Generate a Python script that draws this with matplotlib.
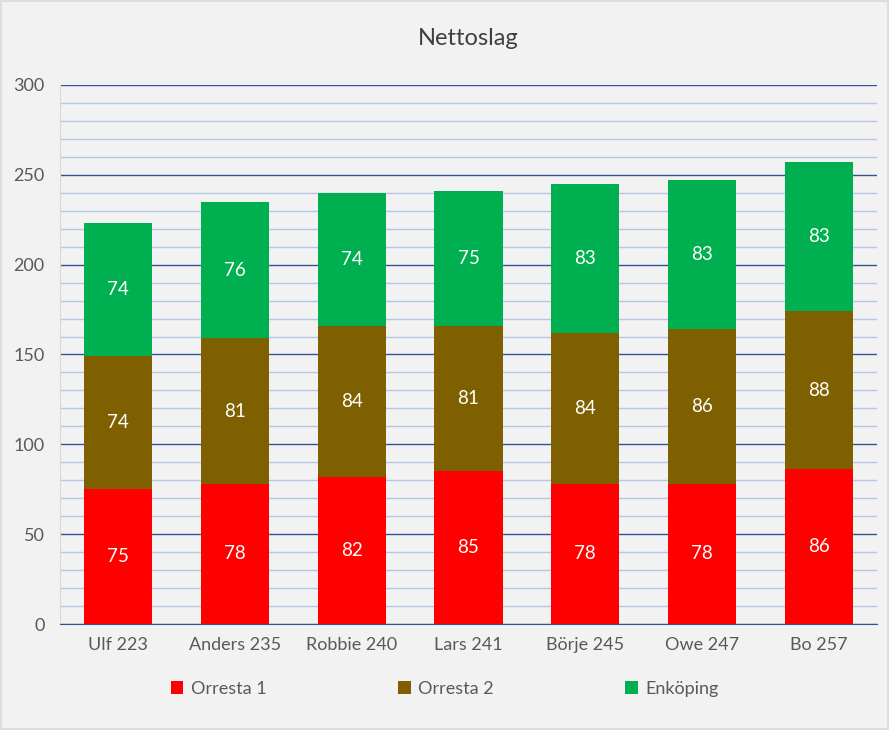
import matplotlib.pyplot as plt
import numpy as np
from matplotlib.patches import Patch

players = ["Ulf 223", "Anders 235", "Robbie 240", "Lars 241", "Börje 245", "Owe 247", "Bo 257"]
orresta1 = [75, 78, 82, 85, 78, 78, 86]
orresta2 = [74, 81, 84, 81, 84, 86, 88]
enkoping = [74, 76, 74, 75, 83, 83, 83]
series_names = ["Orresta 1", "Orresta 2", "Enköping"]
colors = ["#FF0000", "#7F6000", "#00B050"]

plt.rcParams['font.family'] = ['Lato', 'DejaVu Sans']
bg = "#F2F2F2"

fig = plt.figure(figsize=(8.89, 7.30), dpi=100, facecolor=bg)
ax = fig.add_axes([0.0675, 0.1452, 0.919, 0.7384], facecolor=bg)

x = np.arange(len(players))
bottom = np.zeros(len(players))
for vals, col in zip([orresta1, orresta2, enkoping], colors):
    bars = ax.bar(x, vals, 0.583, bottom=bottom, color=col, linewidth=0, zorder=3)
    for b, v in zip(bars, vals):
        ax.text(b.get_x() + b.get_width() / 2, b.get_y() + v / 2, str(v),
                ha="center", va="center", color="white", fontsize=13.5, zorder=4)
    bottom += np.array(vals)

ax.set_xlim(-0.5, len(players) - 0.5)
ax.set_ylim(0, 300)
ax.set_yticks(range(0, 301, 50))
ax.set_yticks(range(0, 301, 10), minor=True)
ax.grid(True, which="minor", axis="y", color="#B4C7E7", linewidth=1.0, zorder=0)
ax.grid(True, which="major", axis="y", color="#2F5597", linewidth=1.0, zorder=1)
ax.set_xticks(x)
ax.set_xticklabels(players)
ax.tick_params(axis="both", length=0, labelsize=13, colors="#595959", which="both")
ax.tick_params(axis="y", pad=11)
ax.tick_params(axis="x", pad=9)
for s in ["top", "right"]:
    ax.spines[s].set_visible(False)
ax.spines["left"].set_color("#D9D9D9")
ax.spines["bottom"].set_color("#2F5597")
ax.spines["bottom"].set_zorder(5)

ax.set_title("Nettoslag", fontsize=17, color="#404040", pad=29)

handles = [Patch(facecolor=c, label=n) for c, n in zip(colors, series_names)]
fig.legend(handles=handles, loc="center", bbox_to_anchor=(0.5, 0.056), ncol=3,
           frameon=False, fontsize=13, handlelength=0.7, handleheight=0.7,
           handletextpad=0.4, columnspacing=7.3, labelcolor="#595959")

border = plt.Rectangle((0.001, 0.001), 0.998, 0.998, transform=fig.transFigure,
                       fill=False, edgecolor="#D9D9D9", linewidth=1.2)
fig.patches.append(border)

fig.savefig("out.png", dpi=100, facecolor=bg)
